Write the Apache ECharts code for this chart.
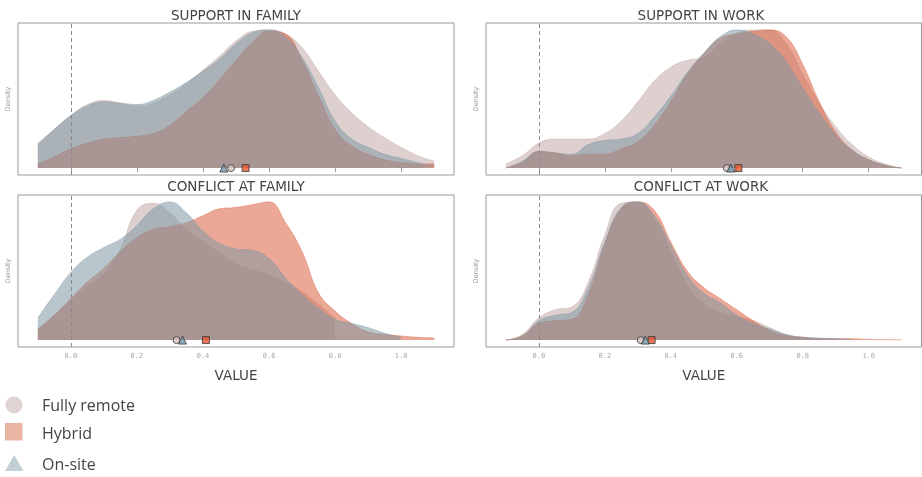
<!DOCTYPE html>
<html>
<head>
<meta charset="utf-8">
<script src="https://cdn.jsdelivr.net/npm/echarts@6/dist/echarts.min.js"></script>
<style>
  html, body { margin: 0; padding: 0; background: #fff; }
  #chart { width: 922px; height: 477px; }
</style>
</head>
<body>
<div id="chart"></div>
<script>
// Sample points of the value axis shared by every density curve
const xs = [-0.1, -0.05, 0, 0.05, 0.1, 0.15, 0.2, 0.25, 0.3, 0.35, 0.4, 0.45, 0.5,
            0.55, 0.6, 0.65, 0.7, 0.75, 0.8, 0.85, 0.9, 0.95, 1.0, 1.05, 1.1];

// Panel titles
const panelTitles = ['SUPPORT IN FAMILY', 'SUPPORT IN WORK', 'CONFLICT AT FAMILY', 'CONFLICT AT WORK'];

// Group names
const groups = ['Fully remote', 'Hybrid', 'On-site'];

// Scaled densities (peak = 1) per panel and group
const supportFamilyRemote = [0.18, 0.28, 0.38, 0.46, 0.49, 0.47, 0.45, 0.47, 0.53, 0.61, 0.71, 0.81, 0.92, 0.99, 1.00, 0.97, 0.87, 0.70, 0.53, 0.40, 0.30, 0.22, 0.15, 0.09, 0.05];
const supportFamilyHybrid = [0.03, 0.08, 0.14, 0.18, 0.21, 0.22, 0.23, 0.25, 0.31, 0.41, 0.51, 0.64, 0.78, 0.91, 0.99, 0.97, 0.78, 0.52, 0.28, 0.16, 0.10, 0.06, 0.04, 0.03, 0.03];
const supportFamilyOnsite = [0.17, 0.28, 0.38, 0.45, 0.48, 0.47, 0.46, 0.49, 0.55, 0.62, 0.70, 0.79, 0.90, 0.98, 1.00, 0.95, 0.80, 0.58, 0.34, 0.21, 0.15, 0.10, 0.07, 0.04, 0.01];

const supportWorkRemote = [0.03, 0.09, 0.18, 0.21, 0.21, 0.21, 0.25, 0.34, 0.48, 0.63, 0.73, 0.78, 0.80, 0.90, 0.98, 1.00, 1.00, 0.90, 0.68, 0.47, 0.30, 0.17, 0.08, 0.03, 0.00];
const supportWorkHybrid = [0.00, 0.04, 0.12, 0.11, 0.09, 0.10, 0.10, 0.14, 0.19, 0.31, 0.48, 0.68, 0.83, 0.94, 0.97, 0.99, 1.00, 0.95, 0.75, 0.48, 0.26, 0.13, 0.06, 0.02, 0.00];
const supportWorkOnsite = [0.00, 0.05, 0.12, 0.11, 0.10, 0.17, 0.20, 0.21, 0.25, 0.37, 0.52, 0.69, 0.83, 0.95, 1.00, 0.97, 0.90, 0.77, 0.58, 0.40, 0.24, 0.13, 0.06, 0.02, 0.00];

const conflictFamilyRemote = [0.08, 0.18, 0.29, 0.39, 0.48, 0.66, 0.94, 0.99, 0.92, 0.80, 0.71, 0.63, 0.55, 0.51, 0.47, 0.42, 0.35, 0.26, 0.16, null, null, null, null, null, null];
const conflictFamilyHybrid = [0.08, 0.18, 0.30, 0.42, 0.52, 0.64, 0.74, 0.80, 0.82, 0.85, 0.90, 0.95, 0.96, 0.98, 1.00, 0.85, 0.64, 0.34, 0.21, 0.12, 0.06, 0.04, 0.03, 0.02, 0.015];
const conflictFamilyOnsite = [0.16, 0.33, 0.49, 0.60, 0.67, 0.73, 0.83, 0.95, 1.00, 0.92, 0.79, 0.70, 0.66, 0.65, 0.59, 0.45, 0.33, 0.23, 0.15, 0.12, 0.09, 0.05, 0.02, null, null];

const conflictWorkRemote = [0.00, 0.04, 0.16, 0.22, 0.24, 0.42, 0.76, 0.99, 1.00, 0.88, 0.64, 0.40, 0.26, 0.20, 0.17, 0.14, 0.09, 0.04, 0.02, 0.01, 0.005, null, null, null, null];
const conflictWorkHybrid = [0.00, 0.03, 0.12, 0.14, 0.15, 0.33, 0.69, 0.95, 1.00, 0.94, 0.71, 0.50, 0.38, 0.30, 0.22, 0.14, 0.07, 0.03, 0.02, 0.01, 0.01, 0.01, 0.005, 0.003, 0.002];
const conflictWorkOnsite = [0.00, 0.03, 0.14, 0.18, 0.20, 0.38, 0.71, 0.96, 1.00, 0.90, 0.69, 0.47, 0.34, 0.27, 0.18, 0.12, 0.08, 0.04, 0.02, 0.015, 0.01, 0.005, null, null, null];

// Group means per panel (same order as panelTitles)
const meansRemote = [0.485, 0.570, 0.320, 0.309];
const meansHybrid = [0.529, 0.605, 0.409, 0.342];
const meansOnsite = [0.463, 0.582, 0.338, 0.323];

// Tick positions on the value axis
const tickValues = [0, 0.2, 0.4, 0.6, 0.8, 1.0];

const panelCurves = [
  [supportFamilyRemote, supportFamilyHybrid, supportFamilyOnsite],
  [supportWorkRemote, supportWorkHybrid, supportWorkOnsite],
  [conflictFamilyRemote, conflictFamilyHybrid, conflictFamilyOnsite],
  [conflictWorkRemote, conflictWorkHybrid, conflictWorkOnsite]
];
const groupMeans = [meansRemote, meansHybrid, meansOnsite];

// Styling
const fillColors = ['#c1aaa8', '#db6140', '#8097a4'];
const markerFill = ['#d6c3c0', '#e2562f', '#7396ab'];
const markerSymbols = ['circle', 'rect', 'triangle'];
const legendFill = ['#e0d4d2', '#eab4a3', '#c3cfd7'];

const grids = [
  { left: 18, top: 23, width: 436, height: 152 },
  { left: 486, top: 23, width: 435.5, height: 152 },
  { left: 18, top: 195, width: 436, height: 152 },
  { left: 486, top: 195, width: 435.5, height: 152 }
];
const titleCenters = [[236, 9], [701, 9], [236, 180.5], [701, 180.5]];

const chart = echarts.init(document.getElementById('chart'), null, { renderer: 'canvas' });

const series = [];
panelCurves.forEach((curves, p) => {
  curves.forEach((vals, g) => {
    const s = {
      type: 'line',
      name: groups[g],
      xAxisIndex: p,
      yAxisIndex: p,
      data: xs.map((x, i) => [x, vals[i]]),
      smooth: 0.45,
      symbol: 'none',
      connectNulls: false,
      lineStyle: { color: fillColors[g], width: 0.8, opacity: 0.55 },
      areaStyle: { color: fillColors[g], opacity: 0.55 },
      z: 2 + g
    };
    if (g === 0) {
      s.markLine = {
        silent: true,
        symbol: 'none',
        label: { show: false },
        lineStyle: { type: [4, 3], color: '#8a8a8a', width: 1 },
        data: [{ xAxis: 0 }]
      };
    }
    series.push(s);
  });
  groupMeans.forEach((means, g) => {
    series.push({
      type: 'scatter',
      name: groups[g] + ' mean',
      xAxisIndex: p,
      yAxisIndex: p,
      data: [[means[p], 0]],
      symbol: markerSymbols[g],
      symbolSize: g === 2 ? 8 : 7,
      itemStyle: { color: markerFill[g], borderColor: '#3a3a3a', borderWidth: 1 },
      z: 10
    });
  });
});

const option = {
  animation: false,
  backgroundColor: '#ffffff',
  title: panelTitles.map((t, i) => ({
    text: t,
    left: titleCenters[i][0],
    top: titleCenters[i][1],
    textAlign: 'center',
    padding: 0,
    textStyle: { fontFamily: 'DejaVu Sans', fontSize: 13.5, fontWeight: 'normal', color: '#444' }
  })),
  grid: grids.map(g => Object.assign({ show: true, borderColor: '#9a9a9a', borderWidth: 1, backgroundColor: 'transparent' }, g)),
  xAxis: grids.map((g, i) => ({
    type: 'value',
    gridIndex: i,
    min: -0.16,
    max: 1.16,
    splitLine: { show: false },
    axisLine: { show: false },
    axisTick: { show: i < 2, customValues: tickValues, inside: false, length: 4, lineStyle: { color: '#9a9a9a' } },
    axisLabel: {
      show: i >= 2,
      customValues: tickValues,
      formatter: v => v.toFixed(1),
      fontFamily: 'DejaVu Sans Mono',
      fontSize: 7,
      color: '#a8a8a8',
      margin: 6
    },
    name: i >= 2 ? 'VALUE' : '',
    nameLocation: 'middle',
    nameGap: 22,
    nameTextStyle: { fontFamily: 'DejaVu Sans', fontSize: 13.5, color: '#444' }
  })),
  yAxis: grids.map((g, i) => ({
    type: 'value',
    gridIndex: i,
    min: -0.05,
    max: 1.05,
    splitLine: { show: false },
    axisLine: { show: false },
    axisTick: { show: false },
    axisLabel: { show: false },
    name: 'Density',
    nameLocation: 'middle',
    nameGap: 6,
    nameTextStyle: { fontFamily: 'DejaVu Sans', fontSize: 6.5, color: '#999' }
  })),
  series: series,
  graphic: [
    { type: 'circle', shape: { cx: 14, cy: 405, r: 8.5 }, style: { fill: legendFill[0] } },
    { type: 'rect', shape: { x: 5, y: 423, width: 17.5, height: 17.5 }, style: { fill: legendFill[1] } },
    { type: 'polygon', shape: { points: [[5, 471], [23.5, 471], [14.2, 455]] }, style: { fill: legendFill[2] } }
  ].concat(groups.map((name, g) => ({
    type: 'text',
    left: 42,
    top: [398, 426, 457][g],
    style: { text: name, font: '16px "Open Sans"', fill: '#444' }
  })))
};

chart.setOption(option);
</script>
</body>
</html>
